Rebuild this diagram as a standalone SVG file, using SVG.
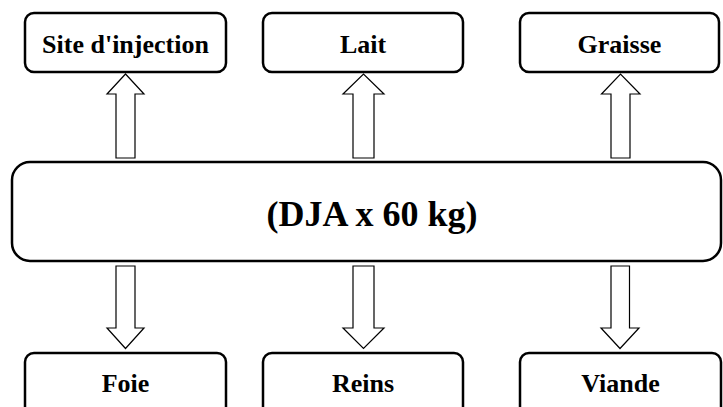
<svg xmlns="http://www.w3.org/2000/svg" width="723" height="407" viewBox="0 0 723 407">
  <style>
    .box { fill: #ffffff; stroke: #000000; stroke-width: 2.5; }
    .arrow { fill: #ffffff; stroke: #000000; stroke-width: 1.2; stroke-linejoin: miter; }
    .label { font-family: "Liberation Serif", "Times New Roman", serif; font-weight: bold; font-size: 26px; text-anchor: middle; fill: #000000; }
    .main { font-size: 36px; }
  </style>
  <rect width="723" height="407" fill="#ffffff"/>

  <!-- block arrows -->
  <g id="connectors">
    <!-- upward arrows: centre box to top boxes -->
    <path class="arrow" d="M116,158 V94 H107 L125.5,74 L144,94 H135 V158 Z"/>
    <path class="arrow" d="M353,158 V94 H343 L363.5,74 L384,94 H374 V158 Z"/>
    <path class="arrow" d="M611,158 V94 H601.5 L620.5,74 L640,94 H630 V158 Z"/>
    <!-- downward arrows: centre box to bottom boxes -->
    <path class="arrow" d="M116,266 V328 H107 L125.5,348.5 L144,328 H135 V266 Z"/>
    <path class="arrow" d="M353,266 V328 H343 L363.5,348.5 L384,328 H374 V266 Z"/>
    <path class="arrow" d="M611,266 V328 H601 L620,348.5 L639,328 H629.5 V266 Z"/>
  </g>

  <g id="site-injection">
    <rect class="box" x="25" y="13" width="201" height="59" rx="9"/>
    <text class="label" x="125.5" y="53">Site d'injection</text>
  </g>
  <g id="lait">
    <rect class="box" x="263" y="13" width="200" height="59" rx="9"/>
    <text class="label" x="363" y="53">Lait</text>
  </g>
  <g id="graisse">
    <rect class="box" x="520" y="13" width="199" height="59" rx="9"/>
    <text class="label" x="619.5" y="53">Graisse</text>
  </g>

  <g id="dja">
    <rect class="box" x="12" y="162" width="709" height="99" rx="18"/>
    <text class="label main" x="372" y="226">(DJA x 60 kg)</text>
  </g>

  <g id="foie">
    <rect class="box" x="25" y="353" width="201" height="70" rx="9"/>
    <text class="label" x="125.5" y="392">Foie</text>
  </g>
  <g id="reins">
    <rect class="box" x="263" y="353" width="200" height="70" rx="9"/>
    <text class="label" x="363" y="392">Reins</text>
  </g>
  <g id="viande">
    <rect class="box" x="520" y="353" width="201" height="70" rx="9"/>
    <text class="label" x="620.5" y="392">Viande</text>
  </g>
</svg>
